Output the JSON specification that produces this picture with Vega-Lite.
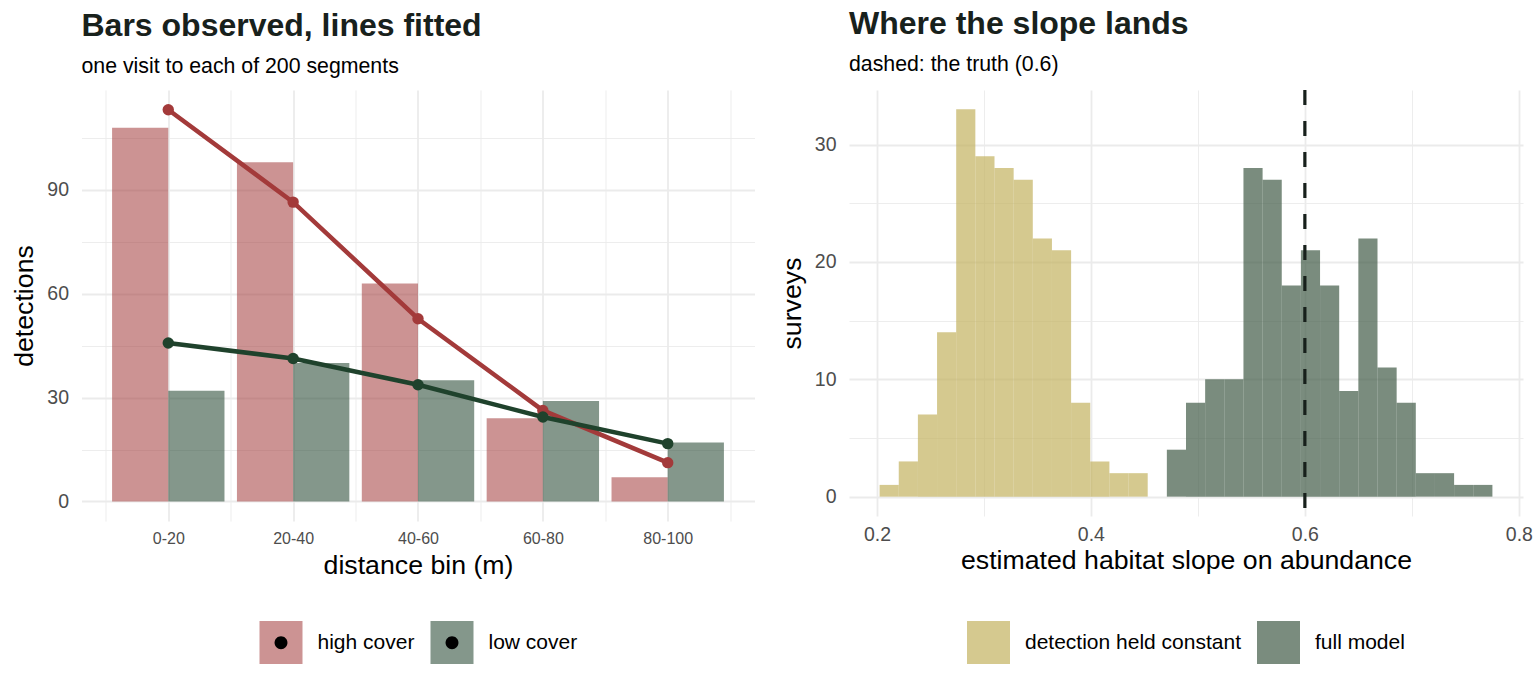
{
  "$schema": "https://vega.github.io/schema/vega-lite/v6.json",
  "background": "white",
  "padding": {"left": 11.5, "top": 8, "right": 0, "bottom": 0},
  "datasets": {
    "bins": [
      {"bin": "0-20", "mid": 10, "cover": "high cover", "observed": 108, "fitted": 113.2},
      {"bin": "20-40", "mid": 30, "cover": "high cover", "observed": 98, "fitted": 86.5},
      {"bin": "40-60", "mid": 50, "cover": "high cover", "observed": 63, "fitted": 52.8},
      {"bin": "60-80", "mid": 70, "cover": "high cover", "observed": 24, "fitted": 26.3},
      {"bin": "80-100", "mid": 90, "cover": "high cover", "observed": 7, "fitted": 11.2},
      {"bin": "0-20", "mid": 10, "cover": "low cover", "observed": 32, "fitted": 45.8},
      {"bin": "20-40", "mid": 30, "cover": "low cover", "observed": 40, "fitted": 41.3},
      {"bin": "40-60", "mid": 50, "cover": "low cover", "observed": 35, "fitted": 33.7},
      {"bin": "60-80", "mid": 70, "cover": "low cover", "observed": 29, "fitted": 24.4},
      {"bin": "80-100", "mid": 90, "cover": "low cover", "observed": 17, "fitted": 16.7}
    ],
    "slopes": [
      {"model": "detection held constant", "lo": 0.2025, "hi": 0.2204, "surveys": 1},
      {"model": "detection held constant", "lo": 0.2204, "hi": 0.2383, "surveys": 3},
      {"model": "detection held constant", "lo": 0.2383, "hi": 0.2562, "surveys": 7},
      {"model": "detection held constant", "lo": 0.2562, "hi": 0.2741, "surveys": 14},
      {"model": "detection held constant", "lo": 0.2741, "hi": 0.2920, "surveys": 33},
      {"model": "detection held constant", "lo": 0.2920, "hi": 0.3099, "surveys": 29},
      {"model": "detection held constant", "lo": 0.3099, "hi": 0.3278, "surveys": 28},
      {"model": "detection held constant", "lo": 0.3278, "hi": 0.3457, "surveys": 27},
      {"model": "detection held constant", "lo": 0.3457, "hi": 0.3636, "surveys": 22},
      {"model": "detection held constant", "lo": 0.3636, "hi": 0.3815, "surveys": 21},
      {"model": "detection held constant", "lo": 0.3815, "hi": 0.3994, "surveys": 8},
      {"model": "detection held constant", "lo": 0.3994, "hi": 0.4173, "surveys": 3},
      {"model": "detection held constant", "lo": 0.4173, "hi": 0.4352, "surveys": 2},
      {"model": "detection held constant", "lo": 0.4352, "hi": 0.4531, "surveys": 2},
      {"model": "full model", "lo": 0.4710, "hi": 0.4889, "surveys": 4},
      {"model": "full model", "lo": 0.4889, "hi": 0.5068, "surveys": 8},
      {"model": "full model", "lo": 0.5068, "hi": 0.5247, "surveys": 10},
      {"model": "full model", "lo": 0.5247, "hi": 0.5426, "surveys": 10},
      {"model": "full model", "lo": 0.5426, "hi": 0.5605, "surveys": 28},
      {"model": "full model", "lo": 0.5605, "hi": 0.5784, "surveys": 27},
      {"model": "full model", "lo": 0.5784, "hi": 0.5963, "surveys": 18},
      {"model": "full model", "lo": 0.5963, "hi": 0.6142, "surveys": 21},
      {"model": "full model", "lo": 0.6142, "hi": 0.6321, "surveys": 18},
      {"model": "full model", "lo": 0.6321, "hi": 0.6500, "surveys": 9},
      {"model": "full model", "lo": 0.6500, "hi": 0.6679, "surveys": 22},
      {"model": "full model", "lo": 0.6679, "hi": 0.6858, "surveys": 11},
      {"model": "full model", "lo": 0.6858, "hi": 0.7037, "surveys": 8},
      {"model": "full model", "lo": 0.7037, "hi": 0.7216, "surveys": 2},
      {"model": "full model", "lo": 0.7216, "hi": 0.7395, "surveys": 2},
      {"model": "full model", "lo": 0.7395, "hi": 0.7574, "surveys": 1},
      {"model": "full model", "lo": 0.7574, "hi": 0.7753, "surveys": 1}
    ]
  },
  "config": {
    "font": "Liberation Sans",
    "view": {"stroke": null},
    "axis": {
      "domain": false,
      "ticks": false,
      "labelColor": "#4d4d4d",
      "labelFont": "Liberation Sans",
      "titleFont": "Liberation Sans",
      "titleColor": "#000000",
      "titleFontWeight": "normal",
      "titleFontSize": 26.7,
      "gridColor": "#ebebeb"
    },
    "title": {
      "anchor": "start",
      "frame": "group",
      "font": "Liberation Sans",
      "fontSize": 32,
      "fontWeight": "bold",
      "color": "#18211c",
      "subtitleFont": "Liberation Sans",
      "subtitleFontSize": 21.3,
      "subtitleColor": "#000000",
      "subtitlePadding": 13,
      "offset": 12
    },
    "legend": {
      "orient": "none",
      "direction": "horizontal",
      "padding": 0,
      "labelFont": "Liberation Sans",
      "labelFontSize": 21,
      "labelColor": "#000000",
      "labelOffset": 15,
      "labelLimit": 400,
      "columnPadding": 16,
      "symbolSize": 1849,
      "symbolStrokeWidth": 0
    }
  },
  "spacing": 24.5,
  "resolve": {"scale": {"color": "independent"}, "legend": {"color": "independent"}},
  "hconcat": [
    {
      "width": 673,
      "height": 431,
      "title": {"text": "Bars observed, lines fitted", "subtitle": "one visit to each of 200 segments"},
      "data": {"name": "bins"},
      "encoding": {
        "x": {
          "field": "mid",
          "type": "quantitative",
          "scale": {"domain": [-3.9, 103.9], "nice": false, "zero": false, "padding": 0},
          "axis": {
            "title": "distance bin (m)",
            "values": [0, 10, 20, 30, 40, 50, 60, 70, 80, 90, 100],
            "labelExpr": "datum.value % 20 === 10 ? ['0-20', '20-40', '40-60', '60-80', '80-100'][(datum.value - 10) / 20] : ''",
            "labelFontSize": 16,
            "labelPadding": 9,
            "titlePadding": 6,
            "gridWidth": {"condition": {"test": "datum.value % 20 === 10", "value": 1.8}, "value": 0.9}
          }
        },
        "color": {
          "field": "cover",
          "type": "nominal",
          "scale": {"domain": ["high cover", "low cover"], "range": ["#a33a3a", "#1f422c"]},
          "legend": {
            "title": null,
            "symbolType": "square",
            "symbolOpacity": 0.55,
            "legendX": 178,
            "legendY": 531
          }
        }
      },
      "layer": [
        {
          "transform": [{"filter": "datum.cover === 'high cover'"}],
          "mark": {"type": "bar", "width": 56.2, "xOffset": -28.1, "fillOpacity": 0.55},
          "encoding": {
            "y": {
              "field": "observed",
              "type": "quantitative",
              "scale": {"domain": [-5.66, 118.9], "nice": false, "zero": false},
              "axis": {
                "title": "detections",
                "values": [0, 15, 30, 45, 60, 75, 90, 105],
                "labelExpr": "datum.value % 30 === 0 ? datum.label : ''",
                "labelFontSize": 19.5,
                "labelPadding": 13,
                "titlePadding": 8,
                "gridWidth": {"condition": {"test": "datum.value % 30 === 0", "value": 1.8}, "value": 0.9}
              }
            },
            "y2": {"datum": 0}
          }
        },
        {
          "transform": [{"filter": "datum.cover === 'low cover'"}],
          "mark": {"type": "bar", "width": 56.2, "xOffset": 28.1, "fillOpacity": 0.55},
          "encoding": {
            "y": {"field": "observed", "type": "quantitative"},
            "y2": {"datum": 0}
          }
        },
        {
          "mark": {"type": "line", "strokeWidth": 4.5},
          "encoding": {
            "y": {"field": "fitted", "type": "quantitative"},
            "detail": {"field": "cover"}
          }
        },
        {
          "mark": {"type": "point", "filled": true, "size": 130, "opacity": 1},
          "encoding": {
            "y": {"field": "fitted", "type": "quantitative"},
            "opacity": {
              "field": "cover",
              "type": "ordinal",
              "scale": {"domain": ["high cover", "low cover"], "range": [1, 1]},
              "legend": {
                "title": null,
                "symbolType": "M-0.3,0A0.3,0.3 0 1,0 0.3,0A0.3,0.3 0 1,0 -0.3,0Z",
                "labelOpacity": 0,
                "legendX": 178,
                "legendY": 531,
                "encode": {"symbols": {"update": {"fill": {"value": "#000000"}, "stroke": {"value": "transparent"}}}}
              }
            }
          }
        }
      ],
      "resolve": {"legend": {"opacity": "independent", "color": "shared"}}
    },
    {
      "width": 674,
      "height": 426,
      "title": {"text": "Where the slope lands", "subtitle": "dashed: the truth (0.6)"},
      "layer": [
        {
          "data": {"name": "slopes"},
          "mark": {"type": "bar", "fillOpacity": 0.7},
          "encoding": {
            "x": {
              "field": "lo",
              "type": "quantitative",
              "scale": {"domain": [0.1739, 0.8039], "nice": false, "zero": false, "padding": 0},
              "axis": {
                "title": "estimated habitat slope on abundance",
                "values": [0.2, 0.3, 0.4, 0.5, 0.6, 0.7, 0.8],
                "labelExpr": "abs(datum.value * 10 - 2 * round(datum.value * 5)) < 0.01 ? format(datum.value, '.1f') : ''",
                "labelFontSize": 19.5,
                "labelPadding": 9,
                "titlePadding": 4,
                "gridWidth": {"condition": {"test": "abs(datum.value * 10 - 2 * round(datum.value * 5)) < 0.01", "value": 1.8}, "value": 0.9}
              }
            },
            "x2": {"field": "hi"},
            "y": {
              "field": "surveys",
              "type": "quantitative",
              "scale": {"domain": [-1.65, 34.65], "nice": false, "zero": false},
              "axis": {
                "title": "surveys",
                "values": [0, 5, 10, 15, 20, 25, 30],
                "labelExpr": "datum.value % 10 === 0 ? datum.label : ''",
                "labelFontSize": 19.5,
                "labelPadding": 13,
                "titlePadding": 8,
                "gridWidth": {"condition": {"test": "datum.value % 10 === 0", "value": 1.8}, "value": 0.9}
              }
            },
            "y2": {"datum": 0},
            "color": {
              "field": "model",
              "type": "nominal",
              "scale": {"domain": ["detection held constant", "full model"], "range": ["#c3b25f", "#415b47"]},
              "legend": {
                "title": null,
                "symbolType": "square",
                "symbolOpacity": 0.7,
                "legendX": 118,
                "legendY": 531
              }
            }
          }
        },
        {
          "data": {"values": [{"truth": 0.6}]},
          "mark": {"type": "rule", "color": "#17201b", "strokeWidth": 3.2, "strokeDash": [15, 16]},
          "encoding": {
            "x": {"field": "truth", "type": "quantitative"}
          }
        }
      ]
    }
  ]
}
